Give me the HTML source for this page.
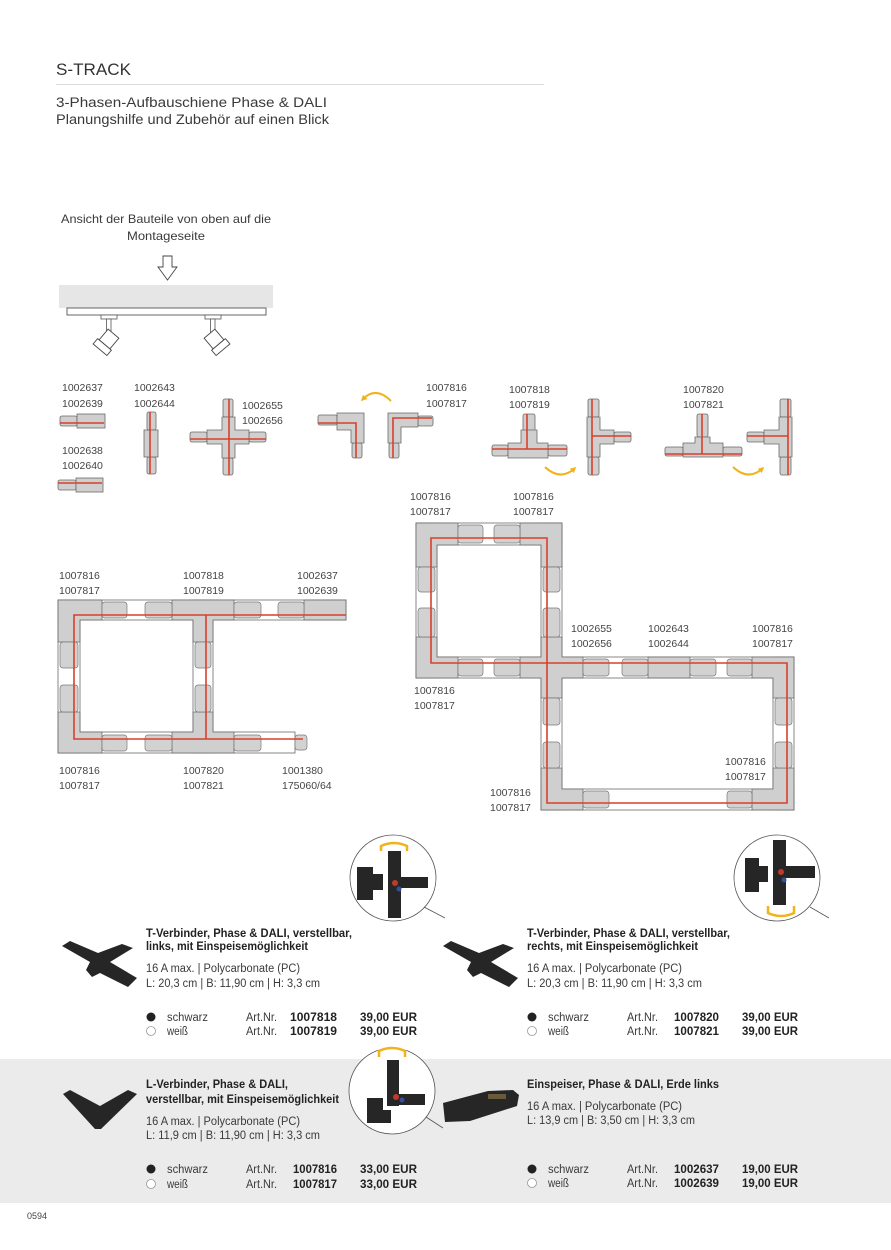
<!DOCTYPE html>
<html><head><meta charset="utf-8"><style>
html,body{margin:0;padding:0;background:#fff;}
svg{display:block;}
text{font-family:"Liberation Sans",Arial,sans-serif;}
.lb{font-size:10.5px;fill:#444;}
.rg{font-size:11.5px;fill:#3a3a3a;}
.bd{font-size:11.5px;fill:#222;font-weight:bold;}
.pc{fill:#cfcfcf;stroke:#6a6a6a;stroke-width:0.8;}
.bl{fill:#d2d2d2;stroke:#777;stroke-width:0.7;}
.rl{fill:#fff;stroke:#6a6a6a;stroke-width:0.8;}
.rd{fill:none;stroke:#d9402b;stroke-width:1.6;}
.yl{fill:none;stroke:#f2b21b;stroke-width:2;}
.dk{fill:#262626;}
</style></head><body>
<svg width="891" height="1250" viewBox="0 0 891 1250" xmlns="http://www.w3.org/2000/svg">
<defs>
<marker id="ah" markerWidth="6" markerHeight="6" refX="3" refY="3" orient="auto" markerUnits="userSpaceOnUse"><path d="M0,0 L6,3 L0,6 z" fill="#f2b21b"/></marker>
</defs>

<!-- Header -->
<text x="56" y="75" style="font-size:17px;fill:#333" textLength="75" lengthAdjust="spacingAndGlyphs">S-TRACK</text>
<line x1="56" y1="84.5" x2="544" y2="84.5" stroke="#dcdcdc" stroke-width="1"/>
<text x="56" y="107" style="font-size:13.5px;fill:#3a3a3a" textLength="271" lengthAdjust="spacingAndGlyphs">3-Phasen-Aufbauschiene Phase &amp; DALI</text>
<text x="56" y="124" style="font-size:13.5px;fill:#3a3a3a" textLength="273" lengthAdjust="spacingAndGlyphs">Planungshilfe und Zubehör auf einen Blick</text>

<!-- Top view illustration -->
<text x="61" y="223" style="font-size:12px;fill:#3a3a3a" textLength="210" lengthAdjust="spacingAndGlyphs">Ansicht der Bauteile von oben auf die</text>
<text x="127" y="240" style="font-size:12px;fill:#3a3a3a" textLength="78" lengthAdjust="spacingAndGlyphs">Montageseite</text>
<polygon points="163,256 172,256 172,267 177,267 167.5,280 158,267 163,267" fill="#fff" stroke="#444" stroke-width="0.9"/>
<rect x="59" y="285" width="214" height="23" fill="#e6e6e6"/>
<rect x="67" y="308" width="199" height="7" fill="#fff" stroke="#555" stroke-width="0.9"/>
<rect x="101" y="315" width="16" height="4" fill="#fff" stroke="#555" stroke-width="0.8"/>
<rect x="106.5" y="319" width="4.5" height="13" fill="#fff" stroke="#555" stroke-width="0.8"/>
<g transform="translate(109,339) rotate(40)" fill="#fff" stroke="#444" stroke-width="0.9"><rect x="-7" y="-7" width="14" height="14"/><rect x="-9" y="7" width="18" height="7"/></g>
<rect x="205" y="315" width="16" height="4" fill="#fff" stroke="#555" stroke-width="0.8"/>
<rect x="210.5" y="319" width="4.5" height="13" fill="#fff" stroke="#555" stroke-width="0.8"/>
<g transform="translate(214,339) rotate(-40)" fill="#fff" stroke="#444" stroke-width="0.9"><rect x="-7" y="-7" width="14" height="14"/><rect x="-9" y="7" width="18" height="7"/></g>

<!-- Component row labels -->
<text class="lb" x="62" y="391">1002637</text><text class="lb" x="62" y="407">1002639</text>
<text class="lb" x="62" y="454">1002638</text><text class="lb" x="62" y="469">1002640</text>
<text class="lb" x="134" y="391">1002643</text><text class="lb" x="134" y="407">1002644</text>
<text class="lb" x="242" y="409">1002655</text><text class="lb" x="242" y="424">1002656</text>
<text class="lb" x="426" y="391">1007816</text><text class="lb" x="426" y="407">1007817</text>
<text class="lb" x="509" y="393">1007818</text><text class="lb" x="509" y="408">1007819</text>
<text class="lb" x="683" y="393">1007820</text><text class="lb" x="683" y="408">1007821</text>

<!-- Feed pieces -->
<rect class="pc" x="60" y="416" width="17" height="10" rx="2"/><rect class="pc" x="77" y="414" width="28" height="14"/>
<line class="rd" x1="60" y1="423" x2="104" y2="423"/>
<rect class="pc" x="58" y="480" width="18" height="10" rx="2"/><rect class="pc" x="76" y="478" width="27" height="14"/>
<line class="rd" x1="58" y1="483" x2="102" y2="483"/>
<!-- Straight connector -->
<rect class="pc" x="147" y="412" width="9" height="18" rx="2"/><rect class="pc" x="147" y="457" width="9" height="17" rx="2"/>
<rect class="pc" x="144" y="430" width="14" height="27"/>
<line class="rd" x1="150" y1="412" x2="150" y2="474"/>
<!-- Cross -->
<rect class="pc" x="223" y="399" width="10" height="18" rx="2"/><rect class="pc" x="223" y="458" width="10" height="17" rx="2"/>
<rect class="pc" x="190" y="432" width="17" height="10" rx="2"/><rect class="pc" x="249" y="432" width="17" height="10" rx="2"/>
<polygon class="pc" points="222,417 235,417 235,430 249,430 249,444 235,444 235,458 222,458 222,444 207,444 207,430 222,430"/>
<path class="rd" d="M190,439 H266 M229,399 V475"/>
<!-- L connectors -->
<rect class="pc" x="318" y="415" width="19" height="10" rx="2"/><rect class="pc" x="352" y="443" width="10" height="15" rx="2"/>
<polygon class="pc" points="337,413 364,413 364,443 351,443 351,430 337,430"/>
<path class="rd" d="M318,423 H356 V458"/>
<rect class="pc" x="418" y="416" width="15" height="10" rx="2"/><rect class="pc" x="389" y="443" width="10" height="15" rx="2"/>
<polygon class="pc" points="388,413 418,413 418,427 401,427 401,443 388,443"/>
<path class="rd" d="M432,418 H393 V458"/>
<path class="yl" d="M391,401 Q376,386 363,399" marker-end="url(#ah)"/>
<!-- T1 -->
<rect class="pc" x="492" y="445" width="16" height="11" rx="2"/><rect class="pc" x="548" y="445" width="19" height="11" rx="2"/>
<rect class="pc" x="523" y="414" width="12" height="17" rx="2"/>
<polygon class="pc" points="521,430 537,430 537,443 548,443 548,458 508,458 508,443 521,443"/>
<path class="rd" d="M492,449 H567 M527,414 V449"/>
<path class="yl" d="M545,467 Q560,481 574,469" marker-end="url(#ah)"/>
<!-- T1 rotated -->
<rect class="pc" x="588" y="399" width="11" height="18" rx="2"/><rect class="pc" x="588" y="457" width="11" height="18" rx="2"/>
<rect class="pc" x="614" y="432" width="17" height="10" rx="2"/>
<polygon class="pc" points="587,417 600,417 600,430 614,430 614,444 600,444 600,457 587,457"/>
<path class="rd" d="M592,399 V475 M592,436 H631"/>
<!-- T2 -->
<rect class="pc" x="665" y="447" width="18" height="9" rx="2"/><rect class="pc" x="723" y="447" width="19" height="9" rx="2"/>
<rect class="pc" x="697" y="414" width="11" height="23" rx="2"/>
<polygon class="pc" points="695,437 710,437 710,443 723,443 723,457 683,457 683,443 695,443"/>
<path class="rd" d="M665,454 H742 M702,414 V454"/>
<path class="yl" d="M733,467 Q748,481 762,469" marker-end="url(#ah)"/>
<!-- T2 rotated -->
<rect class="pc" x="780" y="399" width="11" height="18" rx="2"/><rect class="pc" x="780" y="457" width="11" height="18" rx="2"/>
<rect class="pc" x="747" y="432" width="17" height="10" rx="2"/>
<polygon class="pc" points="779,417 792,417 792,457 779,457 779,444 764,444 764,430 779,430"/>
<path class="rd" d="M788,399 V475 M747,436 H788"/>

<!-- Left layout -->
<text class="lb" x="59" y="579">1007816</text><text class="lb" x="59" y="594">1007817</text>
<text class="lb" x="183" y="579">1007818</text><text class="lb" x="183" y="594">1007819</text>
<text class="lb" x="297" y="579">1002637</text><text class="lb" x="297" y="594">1002639</text>
<text class="lb" x="59" y="774">1007816</text><text class="lb" x="59" y="789">1007817</text>
<text class="lb" x="183" y="774">1007820</text><text class="lb" x="183" y="789">1007821</text>
<text class="lb" x="282" y="774">1001380</text><text class="lb" x="282" y="789">175060/64</text>
<rect class="rl" x="58" y="600" width="288" height="20"/>
<rect class="rl" x="58" y="600" width="22" height="153"/>
<rect class="rl" x="58" y="732" width="237" height="21"/>
<rect class="rl" x="193" y="600" width="20" height="153"/>
<polygon class="pc" points="58,600 102,600 102,620 80,620 80,642 58,642"/>
<polygon class="pc" points="58,712 80,712 80,732 102,732 102,753 58,753"/>
<polygon class="pc" points="172,600 234,600 234,620 213,620 213,642 193,642 193,620 172,620"/>
<polygon class="pc" points="172,753 234,753 234,732 213,732 213,712 193,712 193,732 172,732"/>
<rect class="pc" x="304" y="600" width="42" height="20"/>
<g class="bl">
<rect x="102" y="602" width="25" height="16" rx="3"/><rect x="145" y="602" width="27" height="16" rx="3"/>
<rect x="234" y="602" width="27" height="16" rx="3"/><rect x="278" y="602" width="26" height="16" rx="3"/>
<rect x="60" y="642" width="18" height="26" rx="3"/><rect x="60" y="685" width="18" height="27" rx="3"/>
<rect x="195" y="642" width="16" height="26" rx="3"/><rect x="195" y="685" width="16" height="27" rx="3"/>
<rect x="102" y="735" width="25" height="16" rx="3"/><rect x="145" y="735" width="27" height="16" rx="3"/>
<rect x="234" y="735" width="27" height="16" rx="3"/>
<rect x="295" y="735" width="12" height="15" rx="3"/>
</g>
<path class="rd" d="M346,615 H74 V739 H303 M206,615 V739"/>

<!-- Right layout -->
<text class="lb" x="410" y="500">1007816</text><text class="lb" x="410" y="515">1007817</text>
<text class="lb" x="513" y="500">1007816</text><text class="lb" x="513" y="515">1007817</text>
<text class="lb" x="414" y="694">1007816</text><text class="lb" x="414" y="709">1007817</text>
<text class="lb" x="571" y="632">1002655</text><text class="lb" x="571" y="647">1002656</text>
<text class="lb" x="648" y="632">1002643</text><text class="lb" x="648" y="647">1002644</text>
<text class="lb" x="752" y="632">1007816</text><text class="lb" x="752" y="647">1007817</text>
<text class="lb" x="725" y="765">1007816</text><text class="lb" x="725" y="780">1007817</text>
<text class="lb" x="490" y="796">1007816</text><text class="lb" x="490" y="811">1007817</text>
<rect class="rl" x="416" y="523" width="146" height="22"/>
<rect class="rl" x="416" y="523" width="21" height="155"/>
<rect class="rl" x="541" y="523" width="21" height="287"/>
<rect class="rl" x="416" y="657" width="378" height="21"/>
<rect class="rl" x="773" y="657" width="21" height="153"/>
<rect class="rl" x="541" y="789" width="253" height="21"/>
<polygon class="pc" points="416,523 458,523 458,545 437,545 437,567 416,567"/>
<polygon class="pc" points="520,523 562,523 562,567 541,567 541,545 520,545"/>
<polygon class="pc" points="416,637 437,637 437,657 458,657 458,678 416,678"/>
<polygon class="pc" points="541,637 562,637 562,657 583,657 583,678 562,678 562,698 541,698 541,678 520,678 520,657 541,657"/>
<polygon class="pc" points="752,657 794,657 794,698 773,698 773,678 752,678"/>
<polygon class="pc" points="773,768 794,768 794,810 752,810 752,789 773,789"/>
<polygon class="pc" points="541,768 562,768 562,789 583,789 583,810 541,810"/>
<rect class="pc" x="648" y="657" width="42" height="21"/>
<g class="bl">
<rect x="458" y="525" width="25" height="18" rx="3"/><rect x="494" y="525" width="26" height="18" rx="3"/>
<rect x="418" y="567" width="17" height="25" rx="3"/><rect x="418" y="608" width="17" height="29" rx="3"/>
<rect x="543" y="567" width="17" height="25" rx="3"/><rect x="543" y="608" width="17" height="29" rx="3"/>
<rect x="458" y="659" width="25" height="17" rx="3"/><rect x="494" y="659" width="26" height="17" rx="3"/>
<rect x="583" y="659" width="26" height="17" rx="3"/><rect x="622" y="659" width="26" height="17" rx="3"/>
<rect x="690" y="659" width="26" height="17" rx="3"/><rect x="727" y="659" width="25" height="17" rx="3"/>
<rect x="775" y="698" width="17" height="27" rx="3"/><rect x="775" y="742" width="17" height="26" rx="3"/>
<rect x="543" y="698" width="17" height="27" rx="3"/><rect x="543" y="742" width="17" height="26" rx="3"/>
<rect x="583" y="791" width="26" height="17" rx="3"/><rect x="727" y="791" width="25" height="17" rx="3"/>
</g>
<path class="rd" d="M431,538 H547 V803 H787 V663 H431 Z"/>

<!-- Product 1 -->
<circle cx="393" cy="878" r="43" fill="#fff" stroke="#555" stroke-width="0.8"/>
<line x1="424" y1="907" x2="445" y2="918" stroke="#555" stroke-width="0.8"/>
<rect class="dk" x="357" y="867" width="16" height="33"/><rect class="dk" x="373" y="874" width="10" height="16"/>
<rect class="dk" x="388" y="851" width="13" height="67"/><rect class="dk" x="401" y="877" width="27" height="11"/>
<circle cx="395" cy="883" r="3" fill="#c0392b"/><circle cx="399" cy="889" r="2.5" fill="#3050a0"/>
<path d="M381,851 V846 Q394,840 407,846 V851" fill="none" stroke="#f2b21b" stroke-width="2.5"/>
<polygon class="dk" points="62,946 70,941 98,953 122,944 133,948 110,962 137,978 128,987 100,973 92,977 86,970 90,962"/>
<text class="bd" x="146" y="937" textLength="206" lengthAdjust="spacingAndGlyphs">T-Verbinder, Phase &amp; DALI, verstellbar,</text>
<text class="bd" x="146" y="950" textLength="162" lengthAdjust="spacingAndGlyphs">links, mit Einspeisemöglichkeit</text>
<text class="rg" x="146" y="972" textLength="154" lengthAdjust="spacingAndGlyphs">16 A max. | Polycarbonate (PC)</text>
<text class="rg" x="146" y="987" textLength="174" lengthAdjust="spacingAndGlyphs">L: 20,3 cm | B: 11,90 cm | H: 3,3 cm</text>
<circle cx="151" cy="1017" r="4.5" fill="#222"/><circle cx="151" cy="1031" r="4.5" fill="#fff" stroke="#999" stroke-width="0.8"/>
<text class="rg" x="167" y="1021" textLength="41" lengthAdjust="spacingAndGlyphs">schwarz</text>
<text class="rg" x="167" y="1035" textLength="21" lengthAdjust="spacingAndGlyphs">weiß</text>
<text class="rg" x="246" y="1021" textLength="31" lengthAdjust="spacingAndGlyphs">Art.Nr.</text>
<text class="rg" x="246" y="1035" textLength="31" lengthAdjust="spacingAndGlyphs">Art.Nr.</text>
<text class="bd" x="290" y="1021" textLength="47" lengthAdjust="spacingAndGlyphs">1007818</text>
<text class="bd" x="290" y="1035" textLength="47" lengthAdjust="spacingAndGlyphs">1007819</text>
<text class="bd" x="360" y="1021" textLength="57" lengthAdjust="spacingAndGlyphs">39,00 EUR</text>
<text class="bd" x="360" y="1035" textLength="57" lengthAdjust="spacingAndGlyphs">39,00 EUR</text>

<!-- Product 2 -->
<circle cx="777" cy="878" r="43" fill="#fff" stroke="#555" stroke-width="0.8"/>
<line x1="810" y1="907" x2="829" y2="918" stroke="#555" stroke-width="0.8"/>
<rect class="dk" x="745" y="858" width="14" height="34"/><rect class="dk" x="759" y="866" width="9" height="16"/>
<rect class="dk" x="773" y="840" width="13" height="65"/><rect class="dk" x="786" y="866" width="29" height="12"/>
<circle cx="781" cy="872" r="3" fill="#c0392b"/><circle cx="784" cy="880" r="2.5" fill="#3050a0"/>
<path d="M768,906 V913 Q781,919 794,913 V906" fill="none" stroke="#f2b21b" stroke-width="2.5"/>
<polygon class="dk" points="443,946 451,941 479,953 503,944 514,948 491,962 518,978 509,987 481,973 473,977 467,970 471,962"/>
<text class="bd" x="527" y="937" textLength="203" lengthAdjust="spacingAndGlyphs">T-Verbinder, Phase &amp; DALI, verstellbar,</text>
<text class="bd" x="527" y="950" textLength="171" lengthAdjust="spacingAndGlyphs">rechts, mit Einspeisemöglichkeit</text>
<text class="rg" x="527" y="972" textLength="155" lengthAdjust="spacingAndGlyphs">16 A max. | Polycarbonate (PC)</text>
<text class="rg" x="527" y="987" textLength="175" lengthAdjust="spacingAndGlyphs">L: 20,3 cm | B: 11,90 cm | H: 3,3 cm</text>
<circle cx="532" cy="1017" r="4.5" fill="#222"/><circle cx="532" cy="1031" r="4.5" fill="#fff" stroke="#999" stroke-width="0.8"/>
<text class="rg" x="548" y="1021" textLength="41" lengthAdjust="spacingAndGlyphs">schwarz</text>
<text class="rg" x="548" y="1035" textLength="21" lengthAdjust="spacingAndGlyphs">weiß</text>
<text class="rg" x="627" y="1021" textLength="31" lengthAdjust="spacingAndGlyphs">Art.Nr.</text>
<text class="rg" x="627" y="1035" textLength="31" lengthAdjust="spacingAndGlyphs">Art.Nr.</text>
<text class="bd" x="674" y="1021" textLength="45" lengthAdjust="spacingAndGlyphs">1007820</text>
<text class="bd" x="674" y="1035" textLength="45" lengthAdjust="spacingAndGlyphs">1007821</text>
<text class="bd" x="742" y="1021" textLength="56" lengthAdjust="spacingAndGlyphs">39,00 EUR</text>
<text class="bd" x="742" y="1035" textLength="56" lengthAdjust="spacingAndGlyphs">39,00 EUR</text>

<!-- Gray band -->
<rect x="0" y="1059" width="891" height="144" fill="#ebebeb"/>

<!-- Product 3 -->
<circle cx="392" cy="1091" r="43" fill="#fff" stroke="#555" stroke-width="0.8"/>
<line x1="426" y1="1117" x2="443" y2="1128" stroke="#555" stroke-width="0.8"/>
<rect class="dk" x="387" y="1060" width="12" height="46"/><rect class="dk" x="387" y="1094" width="38" height="11"/>
<rect class="dk" x="367" y="1098" width="16" height="25"/><rect class="dk" x="383" y="1110" width="8" height="13"/>
<circle cx="396" cy="1097" r="3" fill="#c0392b"/><circle cx="402" cy="1100" r="2.5" fill="#3050a0"/>
<path d="M379,1057 V1051 Q392,1045 405,1051 V1057" fill="none" stroke="#f2b21b" stroke-width="2.5"/>
<polygon class="dk" points="63,1094 70,1090 100,1106 128,1090 137,1094 101,1129 95,1129"/>
<text class="bd" x="146" y="1088" textLength="142" lengthAdjust="spacingAndGlyphs">L-Verbinder, Phase &amp; DALI,</text>
<text class="bd" x="146" y="1103" textLength="193" lengthAdjust="spacingAndGlyphs">verstellbar, mit Einspeisemöglichkeit</text>
<text class="rg" x="146" y="1125" textLength="154" lengthAdjust="spacingAndGlyphs">16 A max. | Polycarbonate (PC)</text>
<text class="rg" x="146" y="1139" textLength="174" lengthAdjust="spacingAndGlyphs">L: 11,9 cm | B: 11,90 cm | H: 3,3 cm</text>
<circle cx="151" cy="1169" r="4.5" fill="#222"/><circle cx="151" cy="1184" r="4.5" fill="#fff" stroke="#999" stroke-width="0.8"/>
<text class="rg" x="167" y="1173" textLength="41" lengthAdjust="spacingAndGlyphs">schwarz</text>
<text class="rg" x="167" y="1188" textLength="21" lengthAdjust="spacingAndGlyphs">weiß</text>
<text class="rg" x="246" y="1173" textLength="31" lengthAdjust="spacingAndGlyphs">Art.Nr.</text>
<text class="rg" x="246" y="1188" textLength="31" lengthAdjust="spacingAndGlyphs">Art.Nr.</text>
<text class="bd" x="293" y="1173" textLength="44" lengthAdjust="spacingAndGlyphs">1007816</text>
<text class="bd" x="293" y="1188" textLength="44" lengthAdjust="spacingAndGlyphs">1007817</text>
<text class="bd" x="360" y="1173" textLength="57" lengthAdjust="spacingAndGlyphs">33,00 EUR</text>
<text class="bd" x="360" y="1188" textLength="57" lengthAdjust="spacingAndGlyphs">33,00 EUR</text>

<!-- Product 4 -->
<polygon class="dk" points="443,1103 488,1091 513,1090 519,1095 517,1106 470,1121 445,1122"/>
<rect x="488" y="1094" width="18" height="5" fill="#6b5a3a"/>
<text class="bd" x="527" y="1088" textLength="192" lengthAdjust="spacingAndGlyphs">Einspeiser, Phase &amp; DALI, Erde links</text>
<text class="rg" x="527" y="1110" textLength="155" lengthAdjust="spacingAndGlyphs">16 A max. | Polycarbonate (PC)</text>
<text class="rg" x="527" y="1124" textLength="168" lengthAdjust="spacingAndGlyphs">L: 13,9 cm | B: 3,50 cm | H: 3,3 cm</text>
<circle cx="532" cy="1169" r="4.5" fill="#222"/><circle cx="532" cy="1183" r="4.5" fill="#fff" stroke="#999" stroke-width="0.8"/>
<text class="rg" x="548" y="1173" textLength="41" lengthAdjust="spacingAndGlyphs">schwarz</text>
<text class="rg" x="548" y="1187" textLength="21" lengthAdjust="spacingAndGlyphs">weiß</text>
<text class="rg" x="627" y="1173" textLength="31" lengthAdjust="spacingAndGlyphs">Art.Nr.</text>
<text class="rg" x="627" y="1187" textLength="31" lengthAdjust="spacingAndGlyphs">Art.Nr.</text>
<text class="bd" x="674" y="1173" textLength="45" lengthAdjust="spacingAndGlyphs">1002637</text>
<text class="bd" x="674" y="1187" textLength="45" lengthAdjust="spacingAndGlyphs">1002639</text>
<text class="bd" x="742" y="1173" textLength="56" lengthAdjust="spacingAndGlyphs">19,00 EUR</text>
<text class="bd" x="742" y="1187" textLength="56" lengthAdjust="spacingAndGlyphs">19,00 EUR</text>

<!-- Page number -->
<text x="27" y="1219" style="font-size:9px;fill:#444">0594</text>
</svg>
</body></html>
